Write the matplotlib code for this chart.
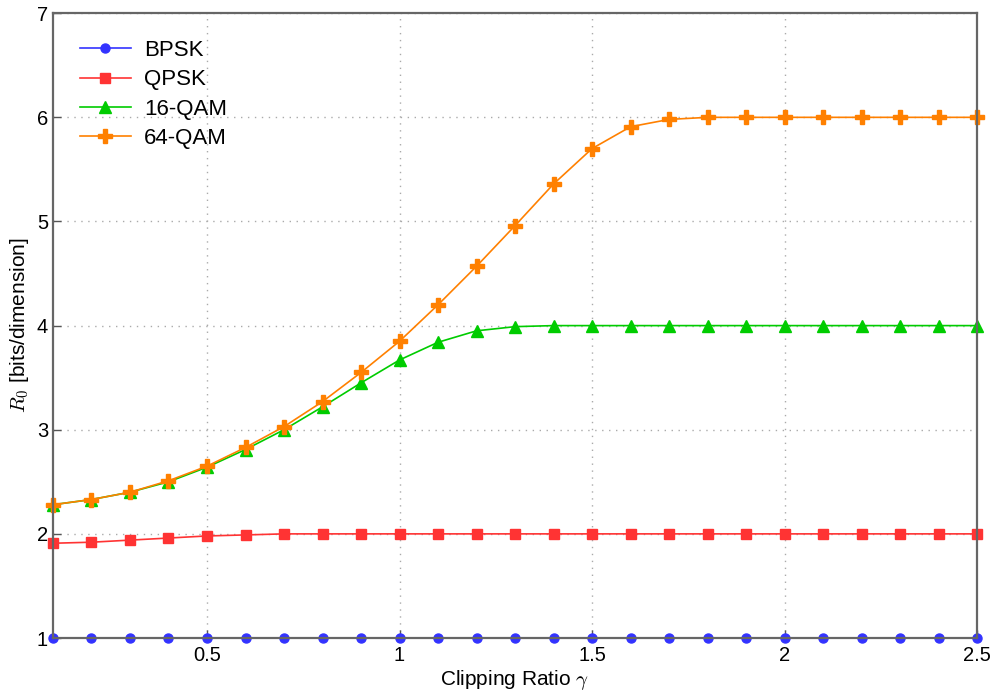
"""Cutoff rate vs clipping ratio."""
import matplotlib
matplotlib.use("Agg")
import matplotlib.pyplot as plt

plt.rcParams['font.family'] = ['Liberation Sans', 'DejaVu Sans']
plt.rcParams['mathtext.fontset'] = 'cm'

gamma = [0.1, 0.2, 0.3, 0.4, 0.5, 0.6, 0.7, 0.8, 0.9, 1.0, 1.1, 1.2, 1.3,
         1.4, 1.5, 1.6, 1.7, 1.8, 1.9, 2.0, 2.1, 2.2, 2.3, 2.4, 2.5]

bpsk = [1.0] * 25
qpsk = [1.91, 1.92, 1.94, 1.96, 1.98, 1.99, 2.0, 2.0, 2.0, 2.0, 2.0, 2.0, 2.0,
        2.0, 2.0, 2.0, 2.0, 2.0, 2.0, 2.0, 2.0, 2.0, 2.0, 2.0, 2.0]
qam16 = [2.28, 2.33, 2.40, 2.50, 2.64, 2.81, 3.00, 3.22, 3.45, 3.67, 3.84,
         3.95, 3.99, 4.0, 4.0, 4.0, 4.0, 4.0, 4.0, 4.0, 4.0, 4.0, 4.0, 4.0, 4.0]
qam64 = [2.28, 2.33, 2.40, 2.51, 2.65, 2.83, 3.03, 3.27, 3.55, 3.85, 4.20,
         4.57, 4.96, 5.36, 5.70, 5.91, 5.98, 6.0, 6.0, 6.0, 6.0, 6.0, 6.0, 6.0, 6.0]

fig = plt.figure(figsize=(9.92, 6.95), dpi=100)
ax = fig.add_axes([0.0534, 0.082, 0.9316, 0.899])

ax.plot(gamma, bpsk, marker='o', color='#3333ff', lw=1.2, ms=6.5, label='BPSK', clip_on=False)
ax.plot(gamma, qpsk, marker='s', color='#ff3333', lw=1.2, ms=6.5, label='QPSK', clip_on=False)
ax.plot(gamma, qam16, marker='^', color='#00cc00', lw=1.2, ms=8, label='16-QAM', clip_on=False)
ax.plot(gamma, qam64, marker='P', color='#ff8000', lw=1.2, ms=9.5, label='64-QAM', clip_on=False)

ax.set_xlim(0.1, 2.5)
ax.set_ylim(1, 7)
ax.set_xticks([0.5, 1, 1.5, 2, 2.5])
ax.set_xticklabels(['0.5', '1', '1.5', '2', '2.5'])
ax.set_yticks([1, 2, 3, 4, 5, 6, 7])
ax.grid(True, linestyle=(0, (1, 4)), color='#aaaaaa', linewidth=1.0)
ax.tick_params(direction='in', length=6, width=1, labelsize=14.5, color='#555555')
ax.tick_params(axis='x', pad=6)
for s in ax.spines.values():
    s.set_color('#666666')
    s.set_linewidth(1.6)

ax.set_xlabel(r'Clipping Ratio $\gamma$', fontsize=15, labelpad=2)
ax.set_ylabel(r'$R_0$ [bits/dimension]', fontsize=15, labelpad=4)

ax.legend(loc='upper left', frameon=False, fontsize=16, handlelength=2.3,
          borderaxespad=0.8, labelspacing=0.38, handletextpad=0.6)

fig.savefig('out.png', dpi=100)
